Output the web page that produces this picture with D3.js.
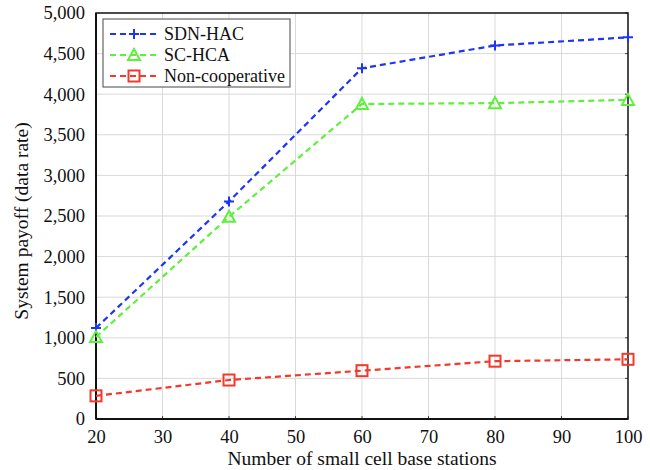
<!doctype html>
<html>
<head>
  <meta charset="utf-8">
  <title>System payoff vs number of small cell base stations</title>
  <script src="https://cdnjs.cloudflare.com/ajax/libs/d3/7.8.5/d3.min.js"></script>
  <style>
  body { margin: 0; background: #fff; }
  svg text { fill: #111; }
  .grid line { stroke: #d9d9d9; stroke-width: 1px; }
  .line { fill: none; stroke-width: 2.2px; stroke-dasharray: 6,4; }
  </style>
</head>
<body>
  <script>
  var stations = [20, 40, 60, 80, 100];
  var sdnHac = [1120, 2680, 4320, 4600, 4700];
  var scHca = [1010, 2490, 3880, 3890, 3930];
  var nonCoop = [285, 480, 595, 712, 735];
  var xTicks = [20, 30, 40, 50, 60, 70, 80, 90, 100];
  var yTicks = [0, 500, 1000, 1500, 2000, 2500, 3000, 3500, 4000, 4500, 5000];

  var series = [
    {name: "SDN-HAC", values: sdnHac, color: "#1f35f2", marker: "plus"},
    {name: "SC-HCA", values: scHca, color: "#5ef03c", marker: "triangle"},
    {name: "Non-cooperative", values: nonCoop, color: "#f23a2c", marker: "square"}
  ];

  var serif = "'Liberation Serif', 'Times New Roman', serif";

  var margin = {top: 13, right: 22, bottom: 51, left: 96},
    width = 650 - margin.left - margin.right,
    height = 470 - margin.top - margin.bottom;

  var svg = d3.select("body").append("svg")
      .attr("width", 650)
      .attr("height", 470)
      .attr("font-family", serif);
  var g = svg.append("g")
      .attr("transform", "translate(" + margin.left + "," + margin.top + ")");

  var x = d3.scaleLinear().domain([20, 100]).range([0, width]);
  var y = d3.scaleLinear().domain([0, 5000]).range([height, 0]);

  // grid
  g.append("g").attr("class", "grid")
    .selectAll("line").data(xTicks.slice(1, -1)).enter().append("line")
      .attr("x1", x).attr("x2", x).attr("y1", 0).attr("y2", height);
  g.append("g").attr("class", "grid")
    .selectAll("line").data(yTicks.slice(1, -1)).enter().append("line")
      .attr("y1", y).attr("y2", y).attr("x1", 0).attr("x2", width);

  var fmt = d3.format(",");
  var xAxis = g.append("g")
    .attr("transform", "translate(0," + height + ")")
    .call(d3.axisBottom(x).tickValues(xTicks).tickSize(0).tickPadding(11));
  xAxis.attr("font-family", serif);
  xAxis.select(".domain").remove();
  xAxis.selectAll("text").style("font-family", serif).style("font-size", "18.5px");

  var yAxis = g.append("g")
    .call(d3.axisLeft(y).tickValues(yTicks).tickFormat(fmt).tickSize(0).tickPadding(11));
  yAxis.attr("font-family", serif);
  yAxis.select(".domain").remove();
  yAxis.selectAll("text").style("font-family", serif).style("font-size", "18.5px");

  // small inner tick dots
  g.append("g").selectAll("line").data(xTicks).enter().append("line")
    .attr("x1", x).attr("x2", x).attr("y1", height - 3).attr("y2", height)
    .attr("stroke", "#444");
  g.append("g").selectAll("line").data(yTicks).enter().append("line")
    .attr("x1", width - 3).attr("x2", width).attr("y1", y).attr("y2", y)
    .attr("stroke", "#444");

  // frame
  g.append("rect")
    .attr("width", width).attr("height", height)
    .attr("fill", "none").attr("stroke", "#111").attr("stroke-width", 1.5);
  g.append("line").attr("x1", 0).attr("x2", 0).attr("y1", 0).attr("y2", height)
    .attr("stroke", "#111").attr("stroke-width", 2);
  g.append("line").attr("x1", 0).attr("x2", width).attr("y1", height).attr("y2", height)
    .attr("stroke", "#111").attr("stroke-width", 2);

  var line = d3.line()
    .x(function(d, i) { return x(stations[i]); })
    .y(function(d) { return y(d); });

  function drawMarker(sel, type, color) {
    if (type === "plus") {
      sel.append("path").attr("d", "M-5,0H5M0,-5V5")
        .attr("stroke", color).attr("stroke-width", 2).attr("fill", "none");
    } else if (type === "triangle") {
      sel.append("path").attr("d", "M0,-6L6,5H-6Z")
        .attr("stroke", color).attr("stroke-width", 2).attr("fill", "none");
    } else {
      sel.append("rect").attr("x", -5.5).attr("y", -5.5).attr("width", 11).attr("height", 11)
        .attr("stroke", color).attr("stroke-width", 2).attr("fill", "none");
    }
  }

  series.forEach(function(s) {
    g.append("path")
      .datum(s.values)
      .attr("class", "line")
      .attr("stroke", s.color)
      .attr("d", line);
    s.values.forEach(function(v, i) {
      var m = g.append("g").attr("transform", "translate(" + x(stations[i]) + "," + y(v) + ")");
      drawMarker(m, s.marker, s.color);
    });
  });

  // legend
  var legend = g.append("g").attr("transform", "translate(7,6)");
  legend.append("rect")
    .attr("width", 187).attr("height", 68)
    .attr("fill", "#fff").attr("stroke", "#666").attr("stroke-width", 1.2);
  series.forEach(function(s, i) {
    var row = legend.append("g").attr("transform", "translate(0," + (15 + i * 21) + ")");
    row.append("line")
      .attr("x1", 7).attr("x2", 56).attr("y1", 0).attr("y2", 0)
      .attr("stroke", s.color).attr("stroke-width", 2.2).attr("stroke-dasharray", "6,4");
    drawMarker(row.append("g").attr("transform", "translate(31,0)"), s.marker, s.color);
    row.append("text")
      .attr("x", 61).attr("y", 0).attr("dy", "0.35em")
      .style("font-family", serif)
      .style("font-size", "18px")
      .text(s.name);
  });

  // axis titles
  svg.append("text")
    .attr("x", margin.left + width / 2).attr("y", 465)
    .attr("text-anchor", "middle")
    .style("font-family", serif)
    .style("font-size", "19.5px")
    .text("Number of small cell base stations");
  svg.append("text")
    .attr("transform", "translate(28," + (margin.top + height / 2 + 5) + ") rotate(-90)")
    .attr("text-anchor", "middle")
    .style("font-family", serif)
    .style("font-size", "19.5px")
    .text("System payoff (data rate)");
  </script>
</body>
</html>
